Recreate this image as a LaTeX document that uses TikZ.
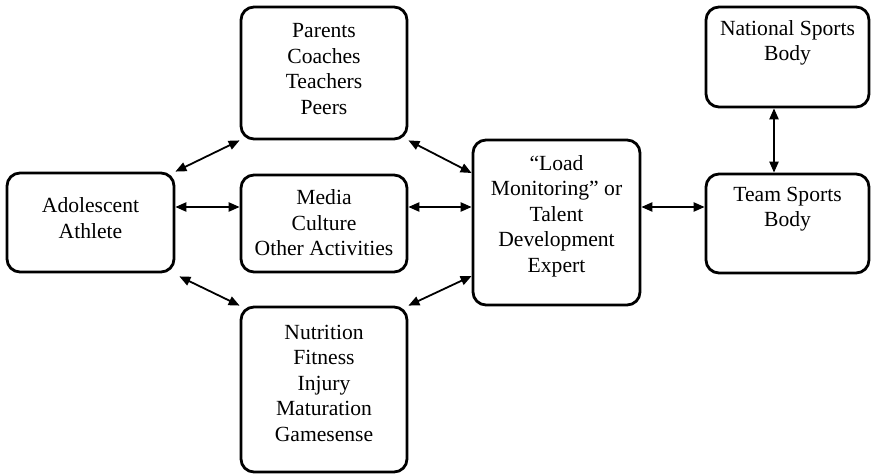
\documentclass[tikz,border=0pt]{standalone}
\usepackage{fontspec}
\setmainfont{Liberation Serif}
\usetikzlibrary{arrows.meta}
\begin{document}
\begin{tikzpicture}[x=0.5pt,y=-0.5pt,
  box/.style={draw, line width=1.4pt, rounded corners=6.5pt, inner sep=0pt},
  txt/.style={align=center, font=\fontsize{10.8}{12.75}\selectfont, inner sep=0pt},
  link/.style={{Triangle[length=5.5pt,width=4.6pt]}-{Triangle[length=5.5pt,width=4.6pt]}, line width=0.9pt}]
\useasboundingbox (0,0) rectangle (871,475);

% boxes
\node[box, minimum width=83.5pt, minimum height=49.5pt] (ado)  at (90.5,222.5) {};
\node[box, minimum width=83pt,   minimum height=66pt]   (par)  at (324,73)     {};
\node[box, minimum width=83pt,   minimum height=48.5pt] (med)  at (324,223.5)  {};
\node[box, minimum width=83pt,   minimum height=82.5pt] (nut)  at (324,389.5)  {};
\node[box, minimum width=83.5pt, minimum height=82.5pt] (load) at (556.5,222.5) {};
\node[box, minimum width=81.5pt, minimum height=50pt]   (nat)  at (787.5,57)   {};
\node[box, minimum width=81.5pt, minimum height=49.5pt] (team) at (787.5,223.5) {};

% box texts
\node[txt] (adoT)  at (90.5,218)  {Adolescent\\Athlete};
\node[txt] (parT)  at (324,69)    {Parents\\Coaches\\Teachers\\Peers};
\node[txt] (medT)  at (324,223)   {Media\\Culture\\Other Activities};
\node[txt] (nutT)  at (324,383)   {Nutrition\\Fitness\\Injury\\Maturation\\Gamesense};
\node[txt] (loadT) at (556.5,216) {“Load\\Monitoring” or\\Talent\\Development\\Expert};
\node[txt] (natT)  at (787.5,43)  {National Sports\\Body};
\node[txt] (teamT) at (787.5,209) {Team Sports\\Body};

% connectors
\draw[link] (ado.north east) -- (par.south west);
\draw[link] ([yshift=7.75pt]ado.east) -- ([yshift=7.75pt]ado.east -| med.west);
\draw[link] ([xshift=2pt,yshift=-1.5pt]ado.south east) -- (nut.north west);
\draw[link] (par.south east) -- ([yshift=24.75pt]load.west);
\draw[link] ([yshift=7.75pt]load.west -| med.east) -- ([yshift=7.75pt]load.west);
\draw[link] (nut.north east) -- ([yshift=-26.75pt]load.west);
\draw[link] ([yshift=7.75pt]load.east) -- ([yshift=7.75pt]load.east -| team.west);
\draw[link] ([xshift=-6.75pt]nat.south) -- ([xshift=-6.75pt]team.north);
\end{tikzpicture}
\end{document}
